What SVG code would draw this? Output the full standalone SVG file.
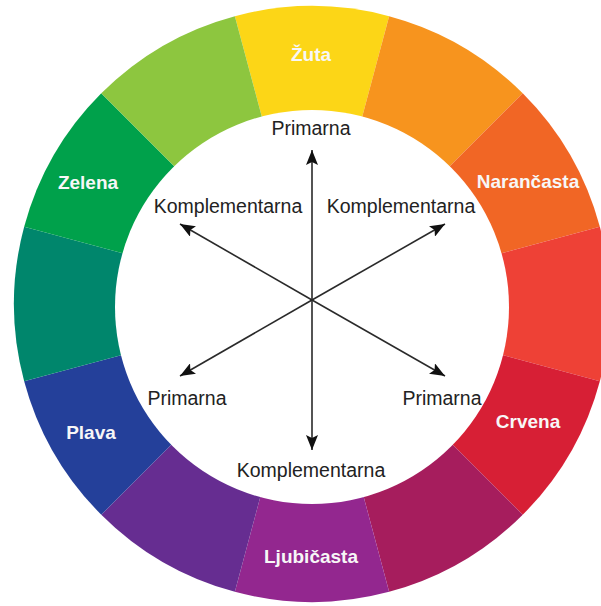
<svg xmlns="http://www.w3.org/2000/svg" width="601" height="606" viewBox="0 0 601 606">
  <style>
    .lbl { font-family: "Liberation Sans", Arial, sans-serif; font-size: 19.5px; fill: #222; text-anchor: middle; }
    .col { font-family: "Liberation Sans", Arial, sans-serif; font-size: 19px; font-weight: bold; fill: #f7f7f7; text-anchor: middle; }
    .arr { stroke: #2a2a2a; stroke-width: 1.6; fill: none; marker-start: url(#ah); marker-end: url(#ah); }
  </style>
  <defs>
    <marker id="ah" markerUnits="userSpaceOnUse" markerWidth="16" markerHeight="12" refX="15" refY="6" orient="auto-start-reverse">
      <path d="M0,0 L15,6 L0,12 L3,6 Z" fill="#111"/>
    </marker>
  </defs>
  <rect width="601" height="606" fill="#ffffff"/>
  <g id="wheel">
    <path id="seg-zuta" d="M312,304 L234.872,16.154 A298,298 0 0 1 389.128,16.154 Z" fill="#FCD617"/>
    <path id="seg-zuto-narancasta" d="M312,304 L389.128,16.154 A298,298 0 0 1 522.718,93.282 Z" fill="#F7941E"/>
    <path id="seg-narancasta" d="M312,304 L522.718,93.282 A298,298 0 0 1 599.846,226.872 Z" fill="#F16625"/>
    <path id="seg-crveno-narancasta" d="M312,304 L599.846,226.872 A298,298 0 0 1 599.846,381.128 Z" fill="#EE4136"/>
    <path id="seg-crvena" d="M312,304 L599.846,381.128 A298,298 0 0 1 522.718,514.718 Z" fill="#D71F35"/>
    <path id="seg-crveno-ljubicasta" d="M312,304 L522.718,514.718 A298,298 0 0 1 389.128,591.846 Z" fill="#A61D5D"/>
    <path id="seg-ljubicasta" d="M312,304 L389.128,591.846 A298,298 0 0 1 234.872,591.846 Z" fill="#93278F"/>
    <path id="seg-plavo-ljubicasta" d="M312,304 L234.872,591.846 A298,298 0 0 1 101.282,514.718 Z" fill="#662D91"/>
    <path id="seg-plava" d="M312,304 L101.282,514.718 A298,298 0 0 1 24.154,381.128 Z" fill="#24409A"/>
    <path id="seg-plavo-zelena" d="M312,304 L24.154,381.128 A298,298 0 0 1 24.154,226.872 Z" fill="#00866C"/>
    <path id="seg-zelena" d="M312,304 L24.154,226.872 A298,298 0 0 1 101.282,93.282 Z" fill="#00A14B"/>
    <path id="seg-zuto-zelena" d="M312,304 L101.282,93.282 A298,298 0 0 1 234.872,16.154 Z" fill="#8DC63F"/>
    <circle id="inner" cx="312" cy="307" r="197" fill="#ffffff"/>
  </g>
  <g id="color-labels">
    <text class="col" x="311" y="61">Žuta</text>
    <text class="col" x="528" y="188">Narančasta</text>
    <text class="col" x="528" y="428">Crvena</text>
    <text class="col" x="311" y="563">Ljubičasta</text>
    <text class="col" x="91" y="439">Plava</text>
    <text class="col" x="88" y="189">Zelena</text>
  </g>
  <g id="connectors">
    <line class="arr" x1="312" y1="300" x2="312" y2="150" style="marker-start:none"/>
    <line class="arr" x1="312" y1="300" x2="312" y2="450" style="marker-start:none"/>
    <line class="arr" x1="312" y1="300" x2="180" y2="224" style="marker-start:none"/>
    <line class="arr" x1="312" y1="300" x2="445" y2="224" style="marker-start:none"/>
    <line class="arr" x1="312" y1="300" x2="180" y2="376" style="marker-start:none"/>
    <line class="arr" x1="312" y1="300" x2="445" y2="376" style="marker-start:none"/>
  </g>
  <g id="node-primarna-top"><text class="lbl" x="311" y="135">Primarna</text></g>
  <g id="node-komplementarna-left"><text class="lbl" x="228" y="213">Komplementarna</text></g>
  <g id="node-komplementarna-right"><text class="lbl" x="401" y="213">Komplementarna</text></g>
  <g id="node-primarna-left"><text class="lbl" x="187" y="405">Primarna</text></g>
  <g id="node-primarna-right"><text class="lbl" x="442" y="405">Primarna</text></g>
  <g id="node-komplementarna-bottom"><text class="lbl" x="311" y="477">Komplementarna</text></g>
</svg>
